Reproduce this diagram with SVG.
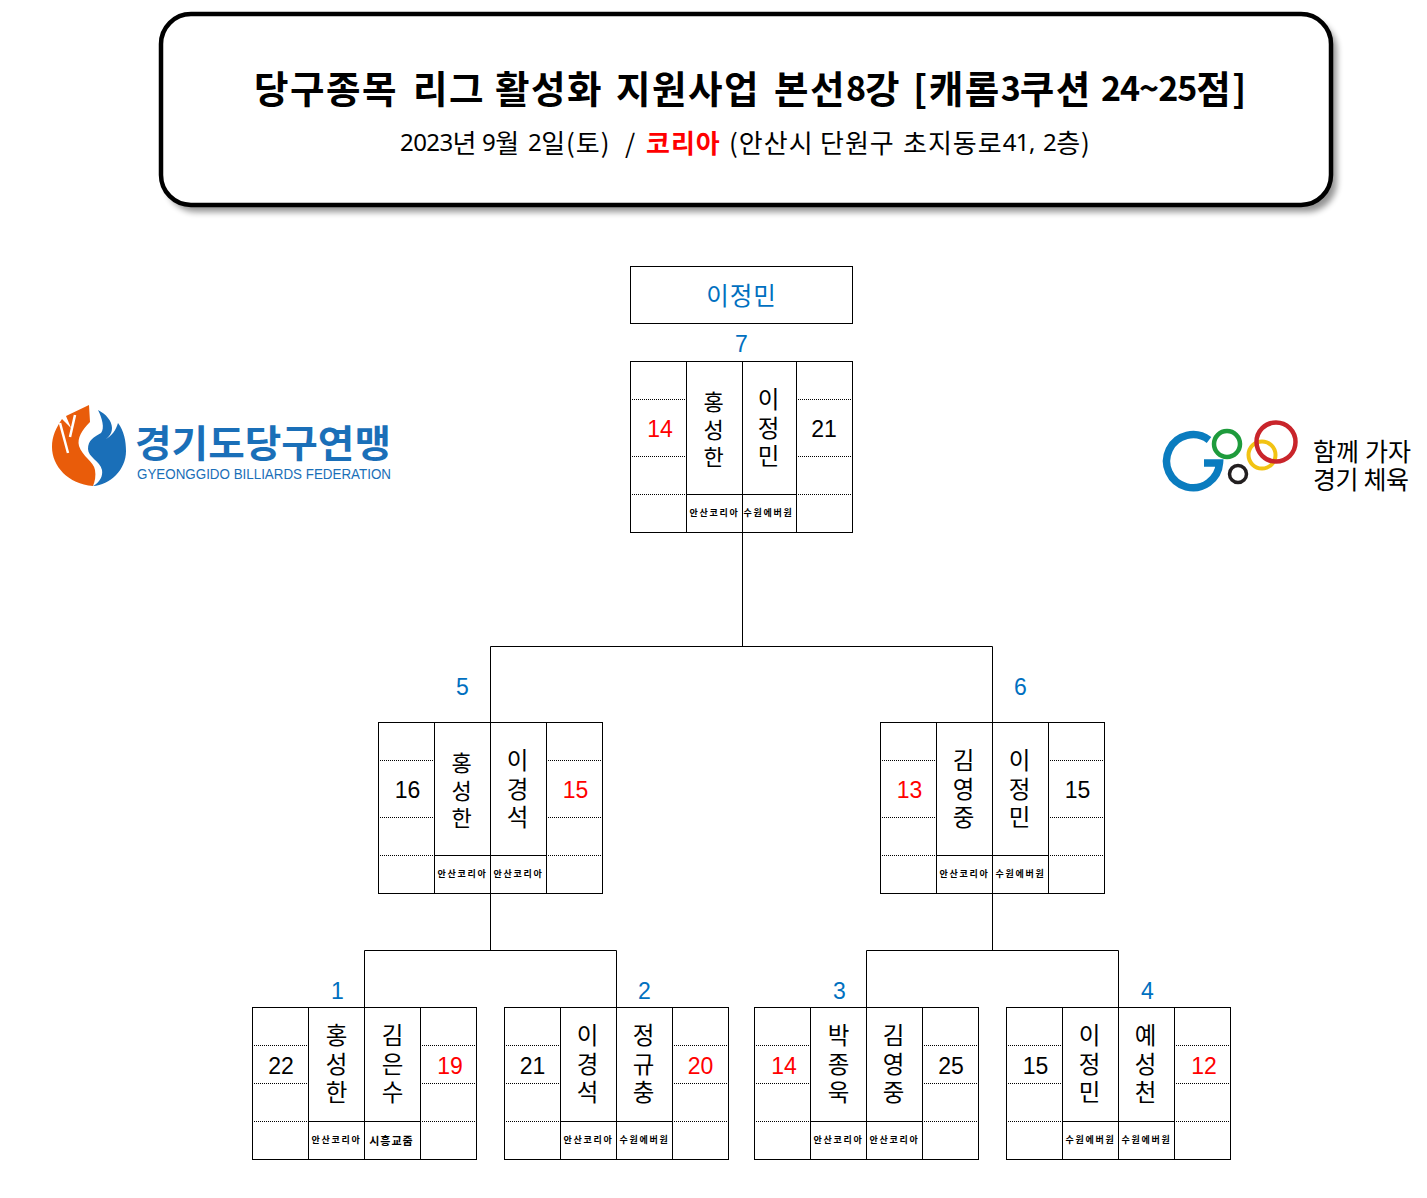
<svg xmlns="http://www.w3.org/2000/svg" width="1427" height="1198" viewBox="0 0 1427 1198">
<style>
text{font-family:"Noto Sans CJK KR","Noto Sans",sans-serif;text-anchor:middle;dominant-baseline:central;fill:#000}
.l{fill:none;stroke:#000;stroke-width:1}
.d{fill:none;stroke:#000;stroke-width:1;stroke-dasharray:1 1}
.nm{font-size:23.500px;transform:translateY(-2px)}
.sc{font-size:23px;font-family:"Liberation Sans",sans-serif}
.r{fill:#f00}
.sm{font-size:9px;font-weight:700;letter-spacing:1.700px;transform:translateY(-1px)}
.sd{font-size:23px;fill:#0070c0;font-family:"Liberation Sans",sans-serif}
.st{text-anchor:start}
.t1{letter-spacing:1.500px}
.t2{letter-spacing:1px}
.t1 .dg{font-size:34px;letter-spacing:-1px}
.t2 .dg{font-size:24px;letter-spacing:-.6px;font-family:"Noto Sans",sans-serif}
</style>
<defs>
<filter id="sh" x="-5%" y="-10%" width="110%" height="125%"><feGaussianBlur stdDeviation="3"/></filter>
<g id="qf"><rect class="l" x="0" y="0" width="224" height="152"/><path class="l" d="M56 0V152M112 0V152M168 0V152M56 114H168"/><path class="d" d="M1.500 38H55M1.500 76H55M1.500 114H55M169.500 38H223M169.500 76H223M169.500 114H223"/></g>
<g id="sf"><rect class="l" x="0" y="0" width="224" height="171"/><path class="l" d="M56 0V171M112 0V171M168 0V171M56 133H168"/><path class="d" d="M1.500 38H55M1.500 95H55M1.500 133H55M169.500 38H223M169.500 95H223M169.500 133H223"/></g>
<g id="ff"><rect class="l" x="0" y="0" width="222" height="171"/><path class="l" d="M56 0V171M112 0V171M166 0V171M56 133H166"/><path class="d" d="M1.500 38H55M1.500 95H55M1.500 133H55M167.500 38H221M167.500 95H221M167.500 133H221"/></g>
</defs>
<rect width="1427" height="1198" fill="#fff"/>
<g id="title">
<rect x="166" y="20" width="1171" height="192" rx="30" fill="#000" opacity=".42" filter="url(#sh)"/>
<rect x="161" y="14" width="1170" height="191" rx="30" fill="#fff" stroke="#000" stroke-width="4.5"/>
<text class="st t1" y="86" font-size="37.500" font-weight="700"><tspan x="254">당구종목</tspan> <tspan x="413">리그</tspan> <tspan x="495">활성화</tspan> <tspan x="616">지원사업</tspan> <tspan x="774">본선<tspan class="dg">8</tspan>강</tspan> <tspan x="913">[캐롬<tspan class="dg">3</tspan>쿠션</tspan> <tspan x="1101"><tspan class="dg">24~25</tspan>점]</tspan></text>
<text class="st t2" y="141" font-size="26"><tspan x="400"><tspan class="dg">2023</tspan>년</tspan> <tspan x="482"><tspan class="dg">9</tspan>월</tspan> <tspan x="528"><tspan class="dg">2</tspan>일(토)</tspan> <tspan x="625">/</tspan> <tspan x="646" class="r" font-weight="700">코리아</tspan> <tspan x="729">(안산시</tspan> <tspan x="820">단원구</tspan> <tspan x="903">초지동로<tspan class="dg">41,</tspan></tspan> <tspan x="1043"><tspan class="dg">2</tspan>층)</tspan></text>
</g>
<g id="logo-left">
<path fill="#e95c0a" d="M93 486C68 484 52 466 52 447C52 436 56 428 62 419L71 428L66 416L89 405L90 422C82 430 77 438 79 446C82 456 94 462 95 470C96 476 95 481 93 486Z"/>
<path fill="none" stroke="#fff" stroke-width="2.5" d="M60 423L68 453M75 415L70 437"/>
<path fill="#1a6fb8" d="M98 410C106 414 112 421 112 428C112 434 108 438 104 440C112 436 116 430 118 423C124 431 126 441 126 451C126 470 110 485 93 486C100 482 103 476 102 470C100 461 88 457 88 449C88 440 94 437 101 433C105 428 102 418 98 410Z"/>
<text x="263" y="440" font-size="38" font-weight="700" style="fill:#1a6fb8" textLength="256" lengthAdjust="spacingAndGlyphs">경기도당구연맹</text>
<text x="264" y="474" font-size="14" style="fill:#1a6fb8;font-family:'Liberation Sans',sans-serif" textLength="254" lengthAdjust="spacingAndGlyphs">GYEONGGIDO BILLIARDS  FEDERATION</text>
</g>
<g id="logo-right" fill="none">
<path stroke="#0a7cbf" stroke-width="7.5" d="M1209 440A26.500 26.500 0 1 0 1219.500 463H1204"/>
<circle cx="1227" cy="444" r="13" stroke="#1e9b3c" stroke-width="4.500"/>
<circle cx="1238" cy="474" r="8.500" stroke="#231f20" stroke-width="3.500"/>
<circle cx="1262" cy="455" r="13.500" stroke="#f2c313" stroke-width="4"/>
<circle cx="1276" cy="442" r="19.500" stroke="#c9252b" stroke-width="4.500"/>
<text x="1362" y="450" font-size="25" textLength="98" lengthAdjust="spacing">함께 가자</text>
<text x="1361" y="478" font-size="25" textLength="96" lengthAdjust="spacing">경기 체육</text>
</g>
<g id="connectors">
<path class="l" d="M742.500 532V646.500M490.500 722V646.500H992.500V722M490.500 893V950.500M364.500 1007V950.500H616.500V1007M992.500 893V950.500M866.500 1007V950.500H1118.500V1007"/>
</g>
<g id="winner">
<rect class="l" x="630.500" y="266.500" width="222" height="57"/>
<text x="741.500" y="294" font-size="24.500" letter-spacing="1" style="fill:#0070c0">이정민</text>
</g>
<g id="n7" transform="translate(630.500 361.500)"><use href="#ff"/>
<text class="sd" x="111" y="-18">7</text><text class="sc r" x="29.500" y="67.500">14</text><text class="sc" x="193.500" y="67.500">21</text>
<text class="nm" x="83" y="40" style="font-size:22px">홍</text><text class="nm" x="83" y="68" style="font-size:22px">성</text><text class="nm" x="83" y="95" style="font-size:22px">한</text>
<text class="nm" x="138" y="38.500">이</text><text class="nm" x="138" y="67.500">정</text><text class="nm" x="138" y="95.500">민</text>
<text class="sm" x="84" y="152">안산코리아</text><text class="sm" x="138" y="152">수원에버원</text></g>
<g id="n5" transform="translate(378.500 722.500)"><use href="#sf"/>
<text class="sd" x="84" y="-36">5</text><text class="sc" x="29" y="67.500">16</text><text class="sc r" x="197" y="67.500">15</text>
<text class="nm" x="83" y="40" style="font-size:22px">홍</text><text class="nm" x="83" y="68" style="font-size:22px">성</text><text class="nm" x="83" y="95" style="font-size:22px">한</text>
<text class="nm" x="139" y="38.500">이</text><text class="nm" x="139" y="67.500">경</text><text class="nm" x="139" y="95.500">석</text>
<text class="sm" x="84" y="152">안산코리아</text><text class="sm" x="140" y="152">안산코리아</text></g>
<g id="n6" transform="translate(880.500 722.500)"><use href="#sf"/>
<text class="sd" x="140" y="-36">6</text><text class="sc r" x="29" y="67.500">13</text><text class="sc" x="197" y="67.500">15</text>
<text class="nm" x="83" y="38.500">김</text><text class="nm" x="83" y="67.500">영</text><text class="nm" x="83" y="95.500">중</text>
<text class="nm" x="139" y="38.500">이</text><text class="nm" x="139" y="67.500">정</text><text class="nm" x="139" y="95.500">민</text>
<text class="sm" x="84" y="152">안산코리아</text><text class="sm" x="140" y="152">수원에버원</text></g>
<g id="n1" transform="translate(252.500 1007.500)"><use href="#qf"/>
<text class="sd" x="85" y="-17">1</text><text class="sc" x="28.500" y="58.500">22</text><text class="sc r" x="197.500" y="58.500">19</text>
<text class="nm" x="84" y="28.500">홍</text><text class="nm" x="84" y="57.500">성</text><text class="nm" x="84" y="85.500">한</text>
<text class="nm" x="140" y="28.500">김</text><text class="nm" x="140" y="57.500">은</text><text class="nm" x="140" y="85.500">수</text>
<text class="sm" x="84" y="133">안산코리아</text><text class="sm" x="139" y="133" style="font-size:11px;letter-spacing:1px">시흥교줌</text></g>
<g id="n2" transform="translate(504.500 1007.500)"><use href="#qf"/>
<text class="sd" x="140" y="-17">2</text><text class="sc" x="28" y="58.500">21</text><text class="sc r" x="196" y="58.500">20</text>
<text class="nm" x="83" y="28.500">이</text><text class="nm" x="83" y="57.500">경</text><text class="nm" x="83" y="85.500">석</text>
<text class="nm" x="139" y="28.500">정</text><text class="nm" x="139" y="57.500">규</text><text class="nm" x="139" y="85.500">충</text>
<text class="sm" x="84" y="133">안산코리아</text><text class="sm" x="140" y="133">수원에버원</text></g>
<g id="n3" transform="translate(754.500 1007.500)"><use href="#qf"/>
<text class="sd" x="85" y="-17">3</text><text class="sc r" x="29.500" y="58.500">14</text><text class="sc" x="196.500" y="58.500">25</text>
<text class="nm" x="84" y="28.500">박</text><text class="nm" x="84" y="57.500">종</text><text class="nm" x="84" y="85.500">욱</text>
<text class="nm" x="139" y="28.500">김</text><text class="nm" x="139" y="57.500">영</text><text class="nm" x="139" y="85.500">중</text>
<text class="sm" x="84" y="133">안산코리아</text><text class="sm" x="140" y="133">안산코리아</text></g>
<g id="n4" transform="translate(1006.500 1007.500)"><use href="#qf"/>
<text class="sd" x="141" y="-17">4</text><text class="sc" x="29" y="58.500">15</text><text class="sc r" x="197.500" y="58.500">12</text>
<text class="nm" x="83" y="28.500">이</text><text class="nm" x="83" y="57.500">정</text><text class="nm" x="83" y="85.500">민</text>
<text class="nm" x="139" y="28.500">예</text><text class="nm" x="139" y="57.500">성</text><text class="nm" x="139" y="85.500">천</text>
<text class="sm" x="84" y="133">수원에버원</text><text class="sm" x="140" y="133">수원에버원</text></g>
</svg>
